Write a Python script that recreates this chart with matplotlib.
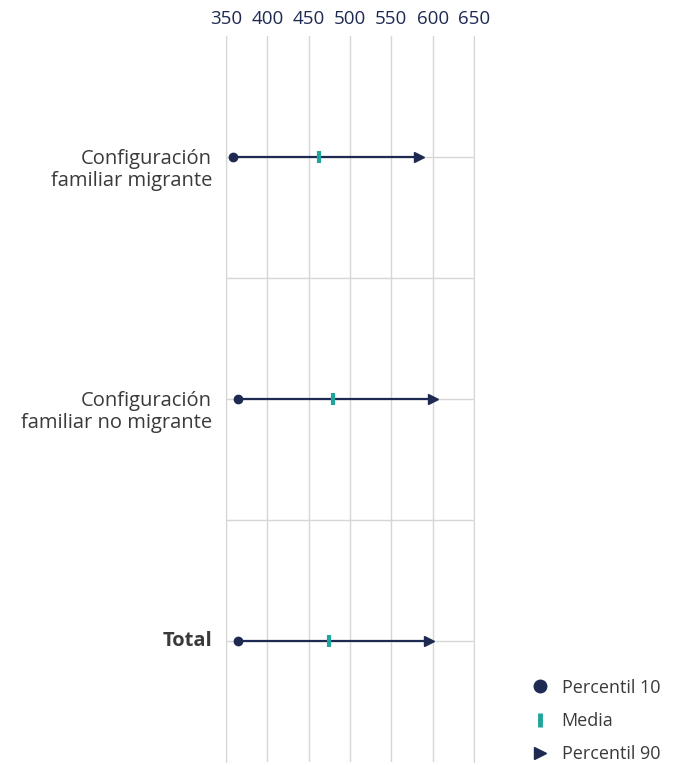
import matplotlib.pyplot as plt
from matplotlib.lines import Line2D

# datos (puntajes)
categorias = ['Configuración\nfamiliar migrante', 'Configuración\nfamiliar no migrante', 'Total']
percentil_10 = [358, 365, 364]
media = [463, 479, 475]
percentil_90 = [584, 600, 595]
ticks_x = [350, 400, 450, 500, 550, 600, 650]

azul = '#1e2a52'
verde = '#1fa59c'
gris = '#d6d6d6'

plt.rcParams['font.family'] = ['Open Sans', 'DejaVu Sans']

fig = plt.figure(figsize=(6.73, 7.65), dpi=100)
ax = fig.add_axes([226 / 673, 3 / 765, 248 / 673, 726 / 765])

y = list(range(len(categorias)))
for i in y:
    ax.plot([percentil_10[i], percentil_90[i]], [i, i], color=azul, lw=1.6, zorder=3)
ax.plot(percentil_10, y, 'o', color=azul, ms=6, zorder=4)
ax.plot(percentil_90, y, '>', color=azul, ms=7.5, zorder=4)
ax.plot(media, y, '|', color=verde, ms=9, mew=3, zorder=5)

ax.set_xlim(350, 650)
ax.set_ylim(2.5, -0.5)
ax.set_xticks(ticks_x)
ax.xaxis.tick_top()
ax.tick_params(axis='x', length=0, pad=6, labelsize=13.5, labelcolor=azul)
ax.set_yticks(y)
ax.set_yticklabels([])
ax.set_yticks([0.5, 1.5], minor=True)
ax.tick_params(axis='y', which='both', length=0)

# etiquetas: la primera línea queda a la altura de la fila
for i, cat in enumerate(categorias):
    multi = '\n' in cat
    ax.annotate(cat, xy=(0, i), xycoords=ax.get_yaxis_transform(),
                xytext=(-10, 6 if multi else 0), textcoords='offset points',
                ha='right', va='top' if multi else 'center', fontsize=14.5,
                color='#3a3a3a', linespacing=1.15,
                fontweight='normal' if multi else 'bold')

ax.grid(True, which='major', color=gris, lw=1)
ax.grid(True, which='minor', axis='y', color=gris, lw=1)
ax.set_axisbelow(True)
for s in ['top', 'bottom']:
    ax.spines[s].set_visible(False)
for s in ['left', 'right']:
    ax.spines[s].set_color(gris)

handles = [
    Line2D([], [], ls='', marker='o', color=azul, ms=9, label='Percentil 10'),
    Line2D([], [], ls='', marker='|', color=verde, ms=10, mew=3.5, label='Media'),
    Line2D([], [], ls='', marker='>', color=azul, ms=8, label='Percentil 90'),
]
fig.legend(handles=handles, loc='lower right', bbox_to_anchor=(1.005, -0.019), frameon=False,
           fontsize=13, labelspacing=0.85, handletextpad=0.4, handlelength=1.6,
           labelcolor='#3a3a3a')

plt.savefig('out.png', dpi=100)
